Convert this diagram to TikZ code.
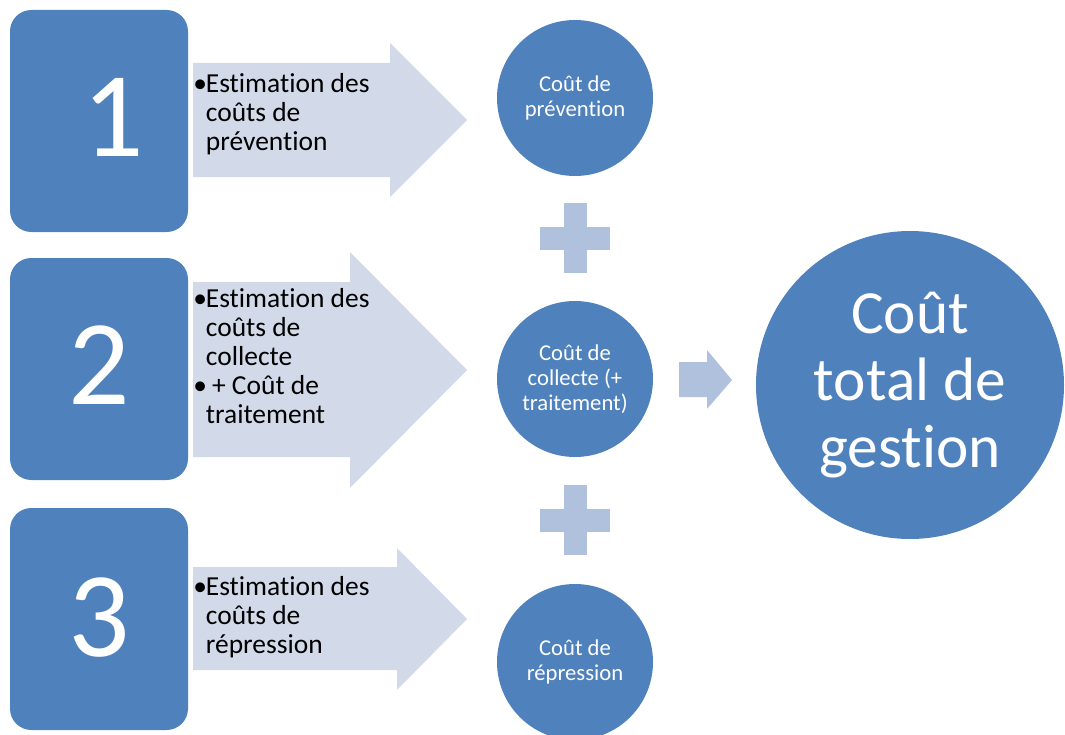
\documentclass[tikz,border=0pt]{standalone}
\usepackage{fontspec}
\setmainfont{Carlito}[Ligatures={NoCommon}]
\definecolor{etapeBleu}{RGB}{79,129,189}
\definecolor{flecheClair}{RGB}{210,218,233}
\definecolor{plusClair}{RGB}{176,193,221}
\newcommand{\puce}{\makebox[0.46em][l]{•}}
\begin{document}
\begin{tikzpicture}[x=0.75pt,y=-0.75pt]
\tikzset{
    etapeBox/.style={rectangle,rounded corners=16pt,fill=etapeBleu,minimum width=133.5pt,minimum height=166.5pt,inner sep=0pt},
    etapeNum/.style={text=white,inner sep=0pt,font=\fontsize{91}{91}\selectfont},
    coutRond/.style={circle,fill=etapeBleu,minimum size=117pt,inner sep=0pt,text=white,align=center,font=\fontsize{17}{18.75}\selectfont},
    totalRond/.style={circle,fill=etapeBleu,minimum size=231pt,inner sep=0pt,text=white,align=center,font=\fontsize{46}{50}\selectfont},
    puceText/.style={anchor=north west,inner sep=0pt,font=\fontsize{20.6}{21.75}\selectfont},
    flecheBloc/.style={fill=flecheClair},
    plusBloc/.style={fill=plusClair}
}
\useasboundingbox (0,0) rectangle (1065,735);

% three steps
\coordinate (B1) at (99,121);  % step 1
\coordinate (B2) at (99,369);  % step 2
\coordinate (B3) at (99,619);  % step 3
\coordinate (R1) at (575,98);  % prevention
\coordinate (R2) at (575,379); % collecte
\coordinate (R3) at (575,662); % repression
\coordinate (T) at (910,385);  % total

% block arrows
\fill[flecheBloc] (193,63) -- (390,63) -- (390,43) -- (467,120) -- (390,197) -- (390,177) -- (193,177) -- cycle;
\fill[flecheBloc] (193,282) -- (350,282) -- (350,252) -- (467,370) -- (350,488) -- (350,457) -- (193,457) -- cycle;
\fill[flecheBloc] (193,567) -- (397,567) -- (397,548) -- (467,619) -- (397,690) -- (397,670) -- (193,670) -- cycle;

\node[etapeBox] (box1) at (B1) {};
\node[etapeNum] (num1) at (113,117) {1};
\node[etapeBox] (box2) at (B2) {};
\node[etapeNum] (num2) at (99,365) {2};
\node[etapeBox] (box3) at (B3) {};
\node[etapeNum] (num3) at (99,618) {3};

\node[puceText] (txt1) at (193,72) {\begin{tabular}{@{}l@{}l@{}}\puce&Estimation des\\&coûts de\\&prévention\end{tabular}};
\node[puceText] (txt2) at (193,287) {\begin{tabular}{@{}l@{}l@{}}\puce&Estimation des\\&coûts de\\&collecte\\\puce&\ + Coût de\\&traitement\end{tabular}};
\node[puceText] (txt3) at (193,575) {\begin{tabular}{@{}l@{}l@{}}\puce&Estimation des\\&coûts de\\&répression\end{tabular}};

% plus signs
\fill[plusBloc] (540,226.5) rectangle (610,249.5);
\fill[plusBloc] (563.5,203) rectangle (586.5,273);
\fill[plusBloc] (540,508.5) rectangle (610,531.5);
\fill[plusBloc] (563.5,485) rectangle (586.5,555);

\node[coutRond] (cout1) at (R1) {Coût de\\prévention};
\node[coutRond] (cout2) at (R2) {Coût de\\collecte (+\\traitement)};
\node[coutRond] (cout3) at (R3) {Coût de\\répression};

% arrow to total
\fill[plusBloc] (679,362) -- (707,362) -- (707,350) -- (732,380) -- (707,409) -- (707,397) -- (679,397) -- cycle;

\node[totalRond] (total) at (T) {Coût\\total de\\gestion};
\end{tikzpicture}
\end{document}
